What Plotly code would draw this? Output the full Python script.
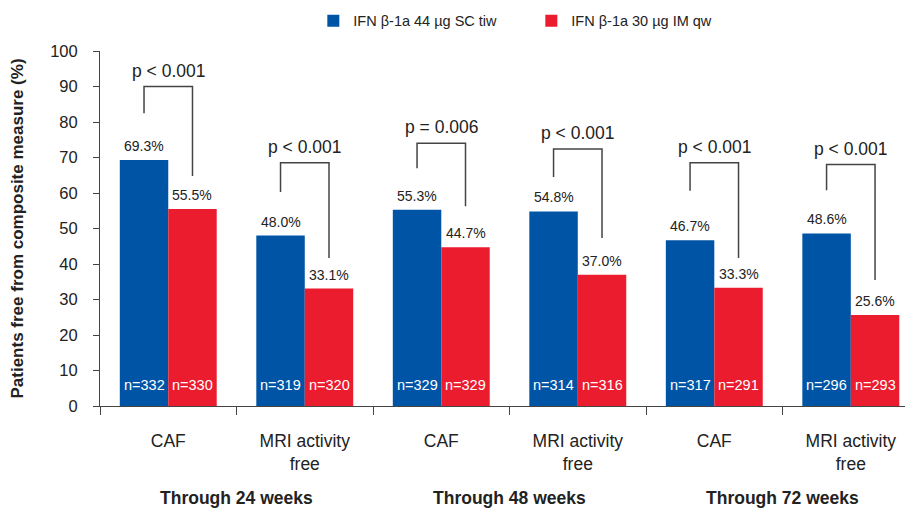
import plotly.graph_objects as go

categories = ["CAF", "MRI activity<br>free", "CAF", "MRI activity<br>free", "CAF", "MRI activity<br>free"]
periods = ["Through 24 weeks", "Through 48 weeks", "Through 72 weeks"]
series_names = ["IFN β-1a 44 µg SC tiw", "IFN β-1a 30 µg IM qw"]
sc_tiw = [69.3, 48.0, 55.3, 54.8, 46.7, 48.6]
im_qw = [55.5, 33.1, 44.7, 37.0, 33.3, 25.6]
n_sc = [332, 319, 329, 314, 317, 296]
n_im = [330, 320, 329, 316, 291, 293]
p_labels = ["p < 0.001", "p < 0.001", "p = 0.006", "p < 0.001", "p < 0.001", "p < 0.001"]
# bracket geometry, in % units
bracket_top = [90, 68.5, 74, 72.4, 68.5, 68]
bracket_left_end = [82.5, 60.3, 67, 64.5, 60.6, 60.8]
bracket_right_end = [64.8, 41.7, 56.3, 47.3, 41.7, 35.5]
y_ticks = list(range(0, 101, 10))

FONT = "Liberation Sans, Arial, Helvetica, sans-serif"
BLUE = "#0054a6"
RED = "#ec1c2f"
INK = "#222222"
AX = "#444444"

xs = list(range(len(categories)))
BARGAP = 0.29
off = (1 - BARGAP) / 4  # centre offset of each bar within a group

fig = go.Figure()
fig.add_bar(x=xs, y=sc_tiw, name=series_names[0], marker=dict(color=BLUE, line=dict(width=0)))
fig.add_bar(x=xs, y=im_qw, name=series_names[1], marker=dict(color=RED, line=dict(width=0)))

ann = []
shapes = []
for i in xs:
    xl, xr = i - off, i + off
    ann.append(dict(x=xl, y=sc_tiw[i], text=f"{sc_tiw[i]:.1f}%", showarrow=False,
                    yanchor="bottom", yshift=4, font=dict(size=14, color=INK)))
    ann.append(dict(x=xr, y=im_qw[i], text=f"{im_qw[i]:.1f}%", showarrow=False,
                    yanchor="bottom", yshift=4, font=dict(size=14, color=INK)))
    ann.append(dict(x=xl, y=0, text=f"n={n_sc[i]}", showarrow=False,
                    yanchor="middle", yshift=21, font=dict(size=14.5, color="white")))
    ann.append(dict(x=xr, y=0, text=f"n={n_im[i]}", showarrow=False,
                    yanchor="middle", yshift=21, font=dict(size=14.5, color="white")))
    ann.append(dict(x=i, y=bracket_top[i], text=p_labels[i], showarrow=False,
                    yanchor="bottom", yshift=4, font=dict(size=17.5, color=INK)))
    shapes.append(dict(type="path", xref="x", yref="y",
                       path=f"M {xl} {bracket_left_end[i]} L {xl} {bracket_top[i]} L {xr} {bracket_top[i]} L {xr} {bracket_right_end[i]}",
                       line=dict(color=AX, width=1.5)))

for k, p in enumerate(periods):
    ann.append(dict(x=2 * k + 0.5, y=-0.259, xref="x", yref="paper", text=f"<b>{p}</b>",
                    showarrow=False, yanchor="middle", font=dict(size=17.5, color=INK)))

fig.update_layout(
    width=905, height=509,
    margin=dict(l=100, r=0, t=51, b=103),
    paper_bgcolor="white", plot_bgcolor="white",
    font=dict(family=FONT, color=INK),
    barmode="group", bargap=BARGAP, bargroupgap=0,
    showlegend=True,
    legend=dict(orientation="h", x=0.265, xanchor="left", y=1.13, yanchor="top",
                font=dict(size=14.5, color=INK), entrywidth=173, entrywidthmode="pixels",
                bgcolor="rgba(0,0,0,0)"),
    annotations=ann,
    shapes=shapes,
)
fig.update_yaxes(range=[0, 100], tickvals=y_ticks, ticks="outside", ticklen=6, tickcolor=AX,
                 showline=True, linecolor=AX, linewidth=1, showgrid=False, zeroline=False,
                 tickfont=dict(size=16.5, color=INK), ticklabelstandoff=12, automargin=False,
                 title=dict(text="<b>Patients free from composite measure (%)</b>",
                            font=dict(size=17, color=INK), standoff=22))
fig.update_xaxes(range=[-0.5, 5.397], tickvals=xs, ticktext=categories, ticks="",
                 showline=True, linecolor=AX, linewidth=1, showgrid=False, zeroline=False,
                 tickfont=dict(size=17.5, color=INK), ticklabelstandoff=19, automargin=False,
                 minor=dict(tick0=-0.5, dtick=1, ticks="outside", ticklen=8, tickcolor=AX, showgrid=False))

fig.write_html("out.html", config={"displayModeBar": False},
               post_script="document.body.style.margin='0';")
